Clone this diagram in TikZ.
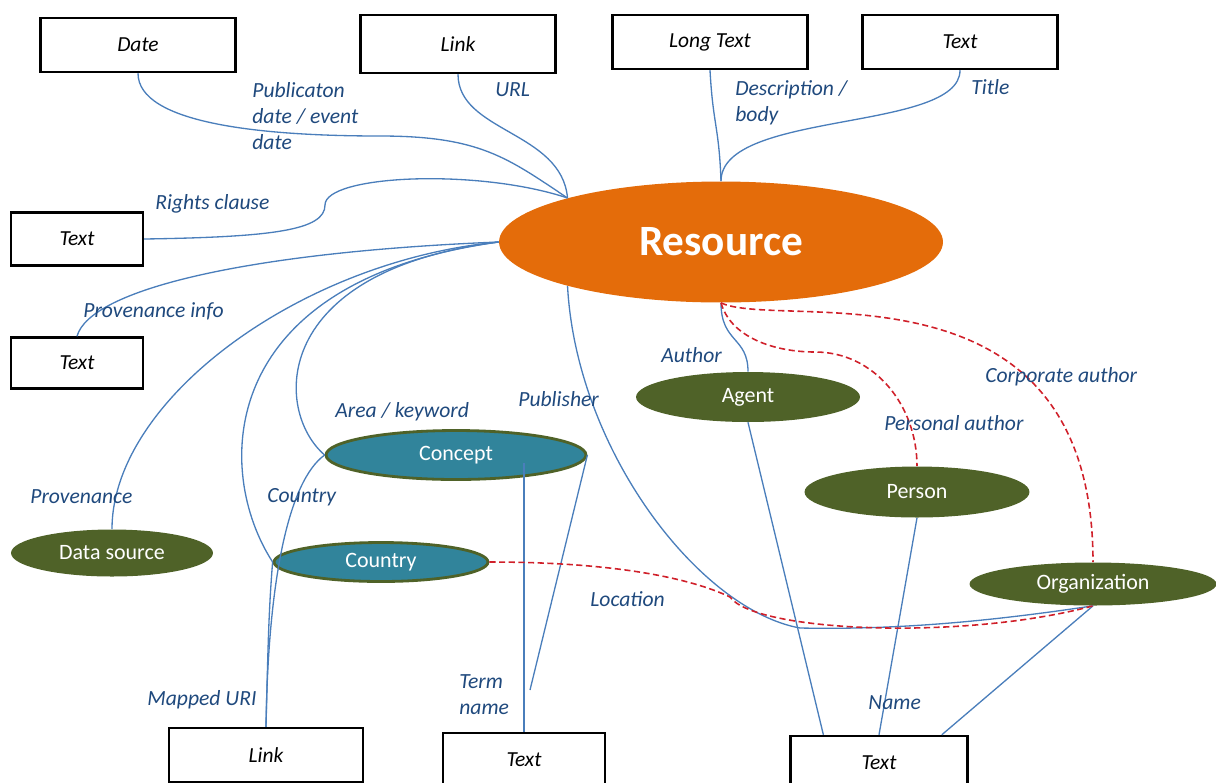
\documentclass[tikz,border=0pt]{standalone}
\usepackage{fontspec}
\setmainfont{Carlito}
\usepackage{tikz}
\usetikzlibrary{positioning}
\usetikzlibrary{shapes.geometric,calc}

\definecolor{resorange}{HTML}{E46C0A}
\definecolor{agentolive}{HTML}{4F6228}
\definecolor{valueteal}{HTML}{31849B}
\definecolor{lineblue}{HTML}{4A7EBB}
\definecolor{labelblue}{HTML}{1F497D}
\definecolor{dashred}{HTML}{D0202A}

\begin{document}
\begin{tikzpicture}[x=0.02cm, y=-0.02cm,
    databox/.style={draw, line width=1.4pt, minimum width=3.9cm, minimum height=1.08cm,
    inner sep=0pt, font=\itshape\fontsize{12.2}{14}\selectfont},
    entity/.style={ellipse, fill=agentolive, text=white, inner sep=0pt,
    font=\fontsize{12.5}{14}\selectfont},
    valueset/.style={entity, fill=valueteal, draw=agentolive, line width=1.6pt},
    proplabel/.style={anchor=west, inner sep=0pt, align=left, text=labelblue,
    font=\itshape\fontsize{12.3}{14.7}\selectfont},
    relline/.style={draw=lineblue, line width=0.75pt},
    subline/.style={draw=dashred, line width=0.9pt, dash pattern=on 3.5pt off 2pt},
    ]

    \useasboundingbox (0,0) rectangle (1216,782);

    \node[ellipse, fill=resorange, minimum width=8.88cm, minimum height=2.42cm, inner sep=0pt,
        text=white, font=\bfseries\fontsize{24.6}{28}\selectfont] (res) at (721,242) {Resource};

    \node[databox] (date) at (138,45) {Date};
    \node[databox, minimum height=1.16cm] (url) at (458,44) {Link};
    \node[databox] (longtext) at (710,42) {Long Text};
    \node[databox] (title) at (960,42) {Text};
    \node[databox, minimum width=2.64cm, minimum height=1.06cm] (rights) at (77,239) {Text};
    \node[databox, minimum width=2.64cm, minimum height=1.02cm] (provinfo) at (77,363) {Text};
    \node[databox, minimum width=3.88cm] (uri) at (266,755) {Link};
    \node[databox, minimum width=3.24cm] (term) at (524,760) {Text};
    \node[databox, minimum width=3.54cm] (name) at (879,763) {Text};

    \node[entity, minimum width=4.48cm, minimum height=1cm] (agent) at (748,397) {Agent};
    \node[entity, minimum width=4.5cm, minimum height=1.02cm] (person) at (917,492) {Person};
    \node[entity, minimum width=4.94cm, minimum height=0.86cm] (org) at (1093,584) {Organization};
    \node[entity, minimum width=4.04cm, minimum height=0.94cm] (source) at (112,553) {Data source};
    \node[valueset, minimum width=5.2cm, minimum height=0.98cm] (concept) at (456,455) {Concept};
    \node[valueset, minimum width=4.28cm, minimum height=0.78cm] (country) at (381,562) {Country};

    \coordinate (dbend) at (380,136);
    \coordinate (rbend) at (325,205);
    \coordinate (pbend) at (800,628);
    \coordinate (lbend) at (730,597);
    \coordinate (pabend) at (815,352);
    \coordinate (termend) at (530,690);

    \draw[relline] (date.south) .. controls +(0,50) and +(-120,0) .. (dbend)
        .. controls +(100,0) and +(-60,-40) .. (res.164);
    \draw[relline] (url.south) .. controls +(0,58) and +(-6,-67) .. (res.164);
    \draw[relline] (longtext.south) .. controls +(3,55) and +(-2,-55) .. (res.north);
    \draw[relline] (title.south) .. controls +(0,62) and +(0,-71) .. (res.north);
    \draw[relline] (rights.east) .. controls +(130,-2) and +(0,25) .. (rbend)
        .. controls +(0,-30) and +(-90,-30) .. (res.164);
    \draw[relline] (provinfo.north) .. controls +(13,-47) and +(-250,10) .. (res.west);
    \draw[relline] (source.north) .. controls +(0,-129) and +(-199,19) .. (res.west);
    \draw[relline] (concept.west) .. controls +(-51,-44) and +(-229,29) .. (res.west);
    \draw[relline] (country.west) .. controls +(-59,-91) and +(-284,39) .. (res.west);
    \draw[relline] (uri.north) .. controls +(2,-147) and +(-36,26) .. (concept.west);
    \draw[relline] (uri.north) .. controls +(2,-80) and +(-4,50) .. (country.west);
    \draw[relline] (term.north) -- ($(term.north |- concept.center)+(0,8)$);
    \draw[relline] (concept.east) -- (termend);
    \draw[relline] (res.196) .. controls +(9,165) and +(-100,-18) .. (pbend)
        .. controls +(100,2) and +(-100,15) .. (org.south);
    \draw[relline] (res.south) .. controls +(0,40) and +(0,-35) .. (agent.north);
    \draw[relline] (agent.south) -- ($(name.north west)!0.19!(name.north east)$);
    \draw[relline] (person.south) -- (name.north);
    \draw[relline] (org.south) -- ($(name.north west)!0.85!(name.north east)$);

    \draw[subline] (res.south) .. controls +(10,35) and +(-40,0) .. (pabend)
        .. controls +(60,0) and +(0,-60) .. (person.north);
    \draw[subline] (res.south) .. controls +(59,28) and +(0,-311) .. (org.north);
    \draw[subline] (country.east) .. controls +(150,0) and +(-25,-12) .. (lbend)
        .. controls +(25,35) and +(-130,35) .. (org.south);

    \node[proplabel] (lpub) at (252,116) {Publicaton\\date / event\\date};
    \node[proplabel] (lurl) at (495,90) {URL};
    \node[proplabel] (ldesc) at (735,103) {Description /\\body};
    \node[proplabel] (ltitle) at (971,87) {Title};
    \node[proplabel] (lrights) at (155,204) {Rights clause};
    \node[proplabel] (lprovinfo) at (83,311) {Provenance info};
    \node[proplabel] (lprov) at (30,497) {Provenance};
    \node[proplabel] (larea) at (335,412) {Area / keyword};
    \node[proplabel] (lcountry) at (267,497) {Country};
    \node[proplabel] (lpublisher) at (518,399) {Publisher};
    \node[proplabel] (luri) at (147,700) {Mapped URI};
    \node[proplabel] (lterm) at (459,695) {Term\\name};
    \node[proplabel] (lloc) at (590,599) {Location};
    \node[proplabel] (lauthor) at (661,355) {Author};
    \node[proplabel] (lpersonal) at (884,423) {Personal author};
    \node[proplabel] (lcorp) at (985,377) {Corporate author};
    \node[proplabel] (lname) at (868,703) {Name};
\end{tikzpicture}
\end{document}
